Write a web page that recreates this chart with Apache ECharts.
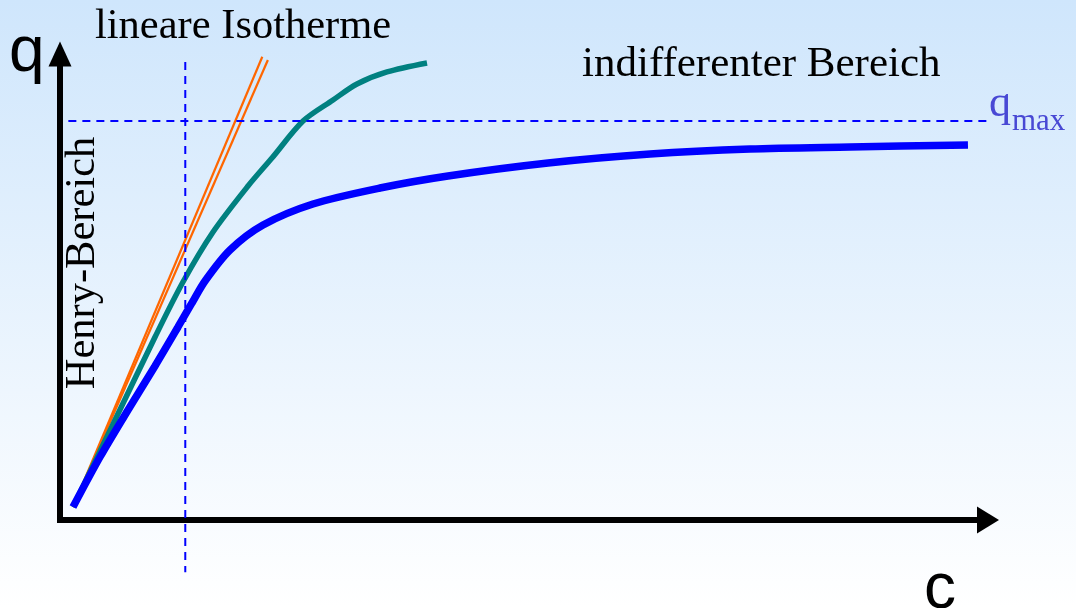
<!DOCTYPE html>
<html>
<head>
<meta charset="utf-8">
<title>Adsorptionsisotherme</title>
<script src="https://cdn.jsdelivr.net/npm/echarts@6/dist/echarts.min.js"></script>
<style>
  html, body { margin: 0; padding: 0; }
  #chart { width: 1076px; height: 608px; }
</style>
</head>
<body>
<div id="chart"></div>
<script>
// Konzentration c (x) und Beladung q (y) in relativen Einheiten 0..100

// Langmuir-artige Isotherme (blau)
const langmuirC = [1.40, 4.31, 7.33, 10.24, 12.72, 14.22, 15.63, 18.32, 21.88, 27.26, 34.48, 41.81, 52.59, 63.58, 74.35, 85.13, 97.84];
const langmuirQ = [2.79, 13.52, 23.61, 33.05, 41.42, 46.57, 51.29, 57.94, 63.30, 67.81, 71.24, 73.82, 76.61, 78.54, 79.61, 80.04, 80.47];

// zweite Isotherme (petrol)
const tealC = [1.40, 5.93, 10.24, 13.25, 16.49, 20.26, 22.84, 26.19, 29.42, 32.00, 35.24, 39.55];
const tealQ = [2.79, 21.46, 39.27, 51.07, 61.80, 71.67, 77.68, 85.62, 90.13, 93.56, 96.14, 98.07];

// lineare Isotherme (Doppellinie, orange)
const linearAC = [1.4, 21.8];
const linearAQ = [2.8, 99.4];
const linearBC = [1.4, 22.4];
const linearBQ = [2.8, 98.7];

// Hilfslinien
const qMax = 85.6;            // maximale Beladung
const qMaxSpan = [0.9, 109.5];
const henryLimit = 13.5;      // Ende des Henry-Bereichs
const henrySpan = [98.3, -11.2];

// Beschriftungen
const labelLinear = 'lineare Isotherme';
const labelIndiff = 'indifferenter Bereich';
const labelHenry = 'Henry-Bereich';
const axisQ = 'q';
const axisC = 'c';
const qMaxMain = 'q';
const qMaxSub = 'max';

const zip = (xs, ys) => xs.map((x, i) => [x, ys[i]]);

const serif = '"Liberation Serif", "Times New Roman", serif';
const sans = '"Liberation Sans", Arial, sans-serif';
const dashStyle = { color: '#0000ff', width: 2, type: [8, 6] };

const chart = echarts.init(document.getElementById('chart'));
chart.setOption({
  animation: false,
  backgroundColor: new echarts.graphic.LinearGradient(0, 0, 0, 1, [
    { offset: 0, color: '#cfe6fc' },
    { offset: 1, color: '#ffffff' }
  ]),
  grid: { left: 60, top: 54, width: 928, height: 466 },
  xAxis: {
    type: 'value', min: 0, max: 100,
    axisLine: {
      show: true, symbol: ['none', 'triangle'], symbolSize: [27, 22],
      lineStyle: { color: '#000', width: 6, cap: 'square' }
    },
    axisTick: { show: false }, axisLabel: { show: false }, splitLine: { show: false }
  },
  yAxis: {
    type: 'value', min: 0, max: 100,
    axisLine: {
      show: true, symbol: ['none', 'triangle'], symbolSize: [23, 25],
      lineStyle: { color: '#000', width: 6, cap: 'square' }
    },
    axisTick: { show: false }, axisLabel: { show: false }, splitLine: { show: false }
  },
  series: [
    { type: 'line', data: zip(linearAC, linearAQ), symbol: 'none', z: 2,
      lineStyle: { color: '#ff6600', width: 2.2 } },
    { type: 'line', data: zip(linearBC, linearBQ), symbol: 'none', z: 2,
      lineStyle: { color: '#ff6600', width: 2.2 } },
    { type: 'line', data: zip(tealC, tealQ), symbol: 'none', smooth: 0.3, z: 3,
      lineStyle: { color: '#008080', width: 5.5 } },
    { type: 'line', data: zip(langmuirC, langmuirQ), symbol: 'none', smooth: 0.3, z: 4,
      lineStyle: { color: '#0000ff', width: 7.5 } },
    { type: 'line', data: qMaxSpan.map(c => [c, qMax]), symbol: 'none', clip: false, z: 5,
      lineStyle: dashStyle },
    { type: 'line', data: henrySpan.map(q => [henryLimit, q]), symbol: 'none', clip: false, z: 5,
      lineStyle: dashStyle }
  ],
  graphic: [
    { type: 'text', x: 95, y: 27, style: { text: labelLinear, font: '42.5px ' + serif, fill: '#000', verticalAlign: 'middle' } },
    { type: 'text', x: 582, y: 65, style: { text: labelIndiff, font: '43px ' + serif, fill: '#000', verticalAlign: 'middle' } },
    { type: 'text', x: 83, y: 263, rotation: Math.PI / 2,
      style: { text: labelHenry, font: '42.5px ' + serif, fill: '#000', align: 'center', verticalAlign: 'middle' } },
    { type: 'text', x: 9, y: 53, style: { text: axisQ, font: '64px ' + sans, fill: '#000', verticalAlign: 'middle' } },
    { type: 'text', x: 924, y: 590, style: { text: axisC, font: '64px ' + sans, fill: '#000', verticalAlign: 'middle' } },
    { type: 'text', x: 989, y: 104, style: { text: qMaxMain, font: '44px ' + serif, fill: '#4848d4', verticalAlign: 'middle' } },
    { type: 'text', x: 1012, y: 122, style: { text: qMaxSub, font: '31px ' + serif, fill: '#4848d4', verticalAlign: 'middle' } }
  ]
});
</script>
</body>
</html>
